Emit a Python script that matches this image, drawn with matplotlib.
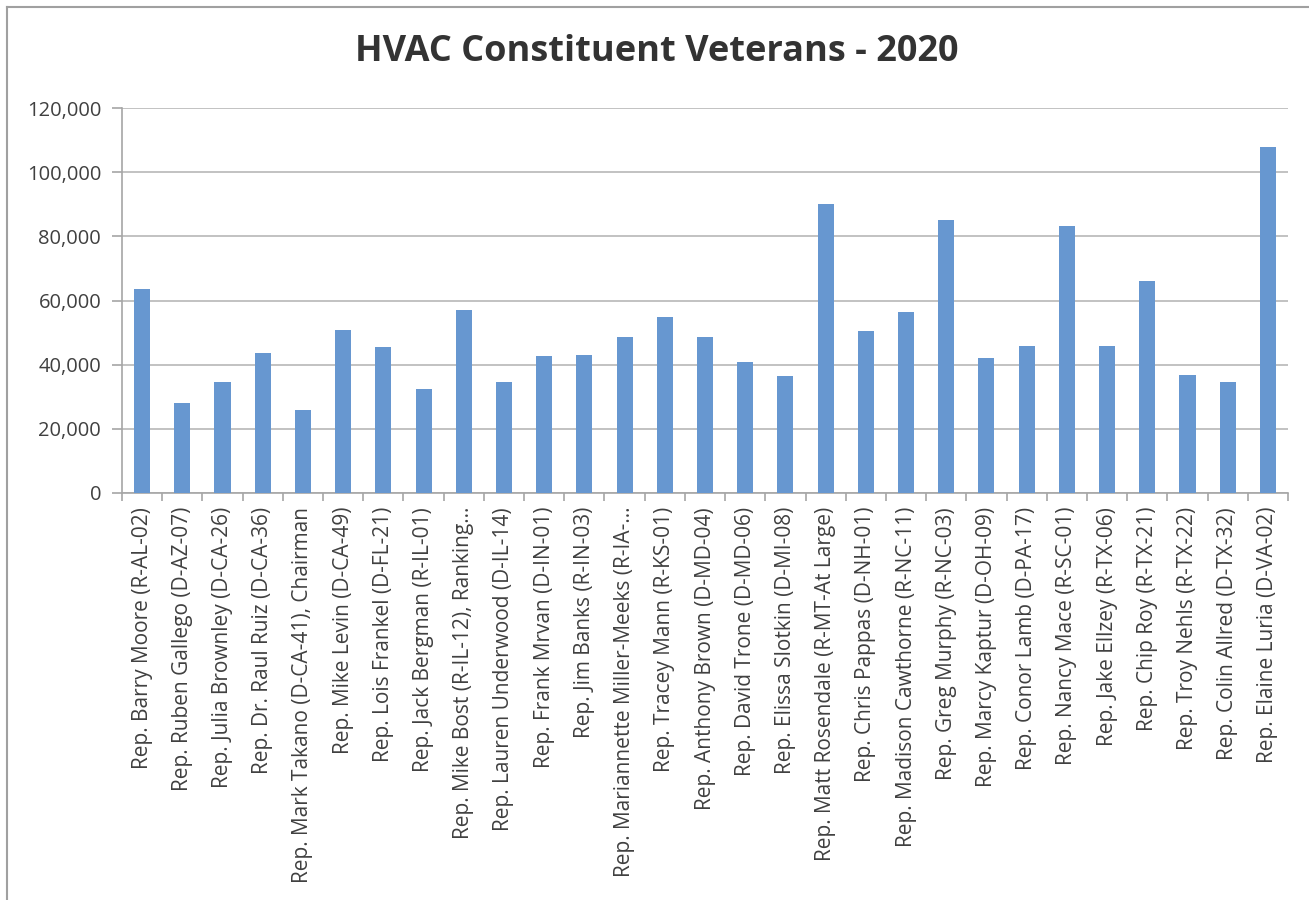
import matplotlib.pyplot as plt
from matplotlib.ticker import FuncFormatter, MultipleLocator, FixedLocator
from matplotlib.lines import Line2D
import numpy as np

members = [
    "Rep. Barry Moore (R-AL-02)",
    "Rep. Ruben Gallego (D-AZ-07)",
    "Rep. Julia Brownley (D-CA-26)",
    "Rep. Dr. Raul Ruiz (D-CA-36)",
    "Rep. Mark Takano (D-CA-41), Chairman",
    "Rep. Mike Levin (D-CA-49)",
    "Rep. Lois Frankel (D-FL-21)",
    "Rep. Jack Bergman (R-IL-01)",
    "Rep. Mike Bost (R-IL-12), Ranking…",
    "Rep. Lauren Underwood (D-IL-14)",
    "Rep. Frank Mrvan (D-IN-01)",
    "Rep. Jim Banks (R-IN-03)",
    "Rep. Mariannette Miller-Meeks (R-IA-…",
    "Rep. Tracey Mann (R-KS-01)",
    "Rep. Anthony Brown (D-MD-04)",
    "Rep. David Trone (D-MD-06)",
    "Rep. Elissa Slotkin (D-MI-08)",
    "Rep. Matt Rosendale (R-MT-At Large)",
    "Rep. Chris Pappas (D-NH-01)",
    "Rep. Madison Cawthorne (R-NC-11)",
    "Rep. Greg Murphy (R-NC-03)",
    "Rep. Marcy Kaptur (D-OH-09)",
    "Rep. Conor Lamb (D-PA-17)",
    "Rep. Nancy Mace (R-SC-01)",
    "Rep. Jake Ellzey (R-TX-06)",
    "Rep. Chip Roy (R-TX-21)",
    "Rep. Troy Nehls (R-TX-22)",
    "Rep. Colin Allred (D-TX-32)",
    "Rep. Elaine Luria (D-VA-02)",
]

veterans = [
    63700, 28000, 34600, 43600, 25800, 50900, 45400, 32500, 57100, 34600,
    42600, 43100, 48600, 54900, 48600, 40800, 36400, 90100, 50400, 56500,
    85000, 42000, 45900, 83300, 45900, 66000, 36900, 34700, 107800,
]

plt.rcParams["font.family"] = ["Open Sans", "DejaVu Sans"]

fig = plt.figure(figsize=(13.09, 9), dpi=100)
ax = fig.add_axes([122 / 1309, 1 - 493 / 900, (1288 - 122) / 1309, (493 - 108) / 900])

x = np.arange(len(members))
ax.bar(x, veterans, width=0.4, color="#6797D0", zorder=3)

ax.set_xlim(-0.5, len(members) - 0.5)
ax.set_ylim(0, 120000)
ax.yaxis.set_major_locator(MultipleLocator(20000))
ax.yaxis.set_major_formatter(FuncFormatter(lambda v, p: f"{int(v):,}"))
ax.grid(axis="y", color="#BDBDBD", linewidth=1.3, zorder=0)

ax.set_xticks(x)
ax.set_xticklabels(members, rotation=90, fontsize=15, color="#404040")
ax.xaxis.set_minor_locator(FixedLocator(np.arange(-0.5, len(members), 1.0)))
ax.tick_params(axis="x", which="major", length=0, pad=10)
ax.tick_params(axis="x", which="minor", length=6, color="#A6A6A6", width=1.2)
ax.tick_params(axis="y", length=7, color="#A6A6A6", width=1.2, labelsize=14.5,
               labelcolor="#404040", pad=8)

for side in ("top", "right"):
    ax.spines[side].set_visible(False)
for side in ("left", "bottom"):
    ax.spines[side].set_color("#A6A6A6")
    ax.spines[side].set_linewidth(1.2)

fig.text(657 / 1309, 1 - 52 / 900, "HVAC Constituent Veterans - 2020",
         ha="center", va="center", fontsize=26, fontweight="bold", color="#333333")

# chart area frame along the top and left edges
fig.add_artist(Line2D([7 / 1309, 7 / 1309], [0, 1 - 7 / 900], transform=fig.transFigure,
                      color="#A0A0A0", linewidth=1.5))
fig.add_artist(Line2D([7 / 1309, 1], [1 - 7 / 900, 1 - 7 / 900], transform=fig.transFigure,
                      color="#A0A0A0", linewidth=1.5))

fig.savefig("out.png", dpi=100)
